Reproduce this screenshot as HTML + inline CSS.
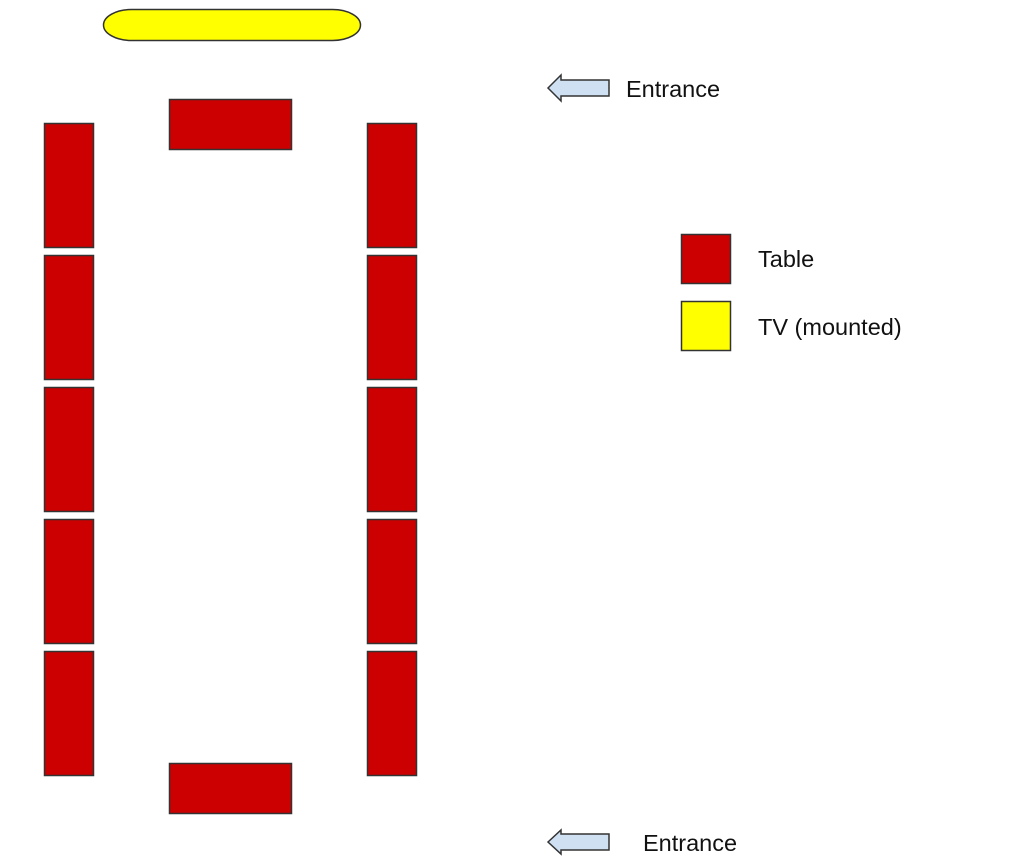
<!DOCTYPE html>
<html><head><meta charset="utf-8"><style>
html,body{margin:0;padding:0;background:#fff;width:1024px;height:868px;overflow:hidden}
</style></head><body>
<svg width="1024" height="868" viewBox="0 0 1024 868" xmlns="http://www.w3.org/2000/svg" font-family="Liberation Sans, sans-serif" font-size="23.5" fill="#111">
<g stroke="#333" stroke-width="1.5">
<rect x="103.5" y="9.5" width="257" height="31" rx="28" ry="15.5" fill="#ffff00"/>
<g fill="#cc0000">
<rect x="169.5" y="99.5" width="122" height="50"/>
<rect x="169.5" y="763.5" width="122" height="50"/>
<rect x="44.5" y="123.5" width="49" height="124"/>
<rect x="44.5" y="255.5" width="49" height="124"/>
<rect x="44.5" y="387.5" width="49" height="124"/>
<rect x="44.5" y="519.5" width="49" height="124"/>
<rect x="44.5" y="651.5" width="49" height="124"/>
<rect x="367.5" y="123.5" width="49" height="124"/>
<rect x="367.5" y="255.5" width="49" height="124"/>
<rect x="367.5" y="387.5" width="49" height="124"/>
<rect x="367.5" y="519.5" width="49" height="124"/>
<rect x="367.5" y="651.5" width="49" height="124"/>
<rect x="681.5" y="234.5" width="49" height="49"/>
</g>
<rect x="681.5" y="301.5" width="49" height="49" fill="#ffff00"/>
<g fill="#cfe0f3">
<polygon points="548,88 561,75 561,80 609,80 609,96 561,96 561,101"/>
<polygon points="548,842 561,830 561,834 609,834 609,850 561,850 561,854"/>
</g>
</g>
<text x="626" y="97">Entrance</text>
<text x="643" y="851">Entrance</text>
<text x="758" y="267">Table</text>
<text x="758" y="335">TV (mounted)</text>
</svg>
</body></html>
